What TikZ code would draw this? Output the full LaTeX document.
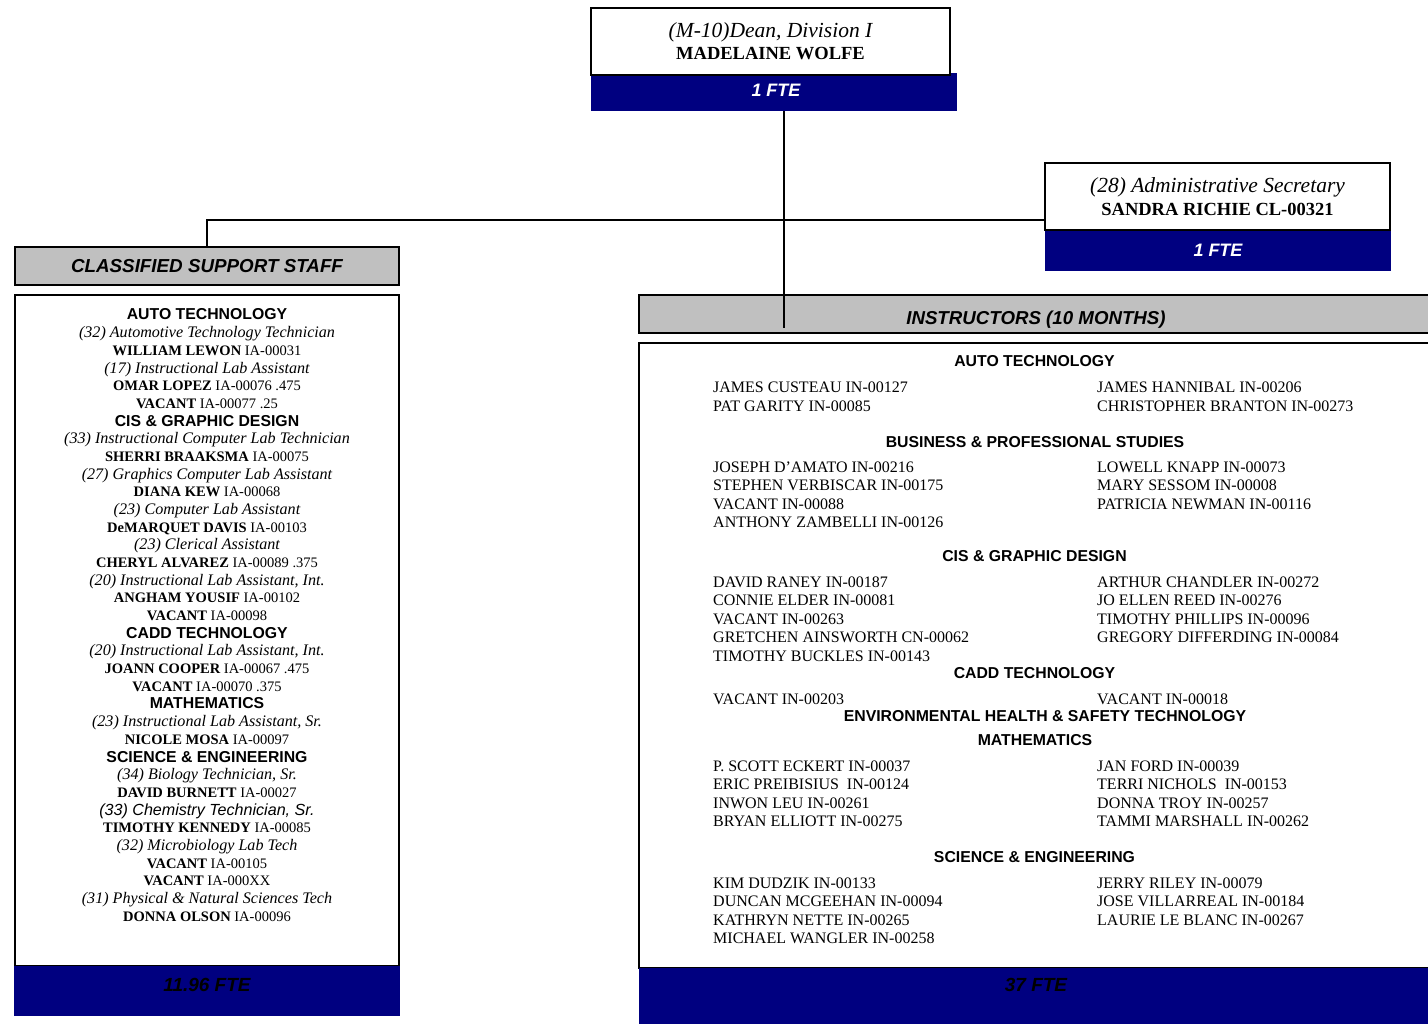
\documentclass[tikz,border=0pt]{standalone}
\usepackage{fontspec}
\setmainfont{Liberation Serif}
\setsansfont{Liberation Sans}
\definecolor{navy}{RGB}{0,0,128}
\definecolor{hdrgray}{RGB}{192,192,192}
\newcommand\Hd[1]{{\sffamily\bfseries\fontsize{15.8}{17}\selectfont #1}}
\newcommand\Jb[1]{{\itshape\fontsize{16.1}{17}\selectfont #1}}
\newcommand\Nm[2]{{\bfseries #1} #2}
\newcommand\RList[4]{\foreach \t [count=\i] in {#4} \node[rname] (#1\i) at (#2,{#3+6+(\i-1)*18.5}) {\t};}
\begin{document}
\begin{tikzpicture}[x=1pt,y=-1pt,
  box/.style={draw=black, line width=2pt, fill=white, inner sep=0pt},
  bar/.style={fill=navy, draw=none, inner sep=0pt, text=white, font=\sffamily\bfseries\itshape\fontsize{18}{20}\selectfont},
  hdr/.style={draw=black, line width=2pt, fill=hdrgray, inner sep=0pt, font=\sffamily\bfseries\itshape\fontsize{18.8}{20}\selectfont},
  lft/.style={anchor=base, inner sep=0pt, font=\fontsize{14.5}{16}\selectfont},
  rname/.style={anchor=base west, inner sep=0pt, font=\fontsize{16}{18}\selectfont},
  rhead/.style={anchor=base, inner sep=0pt, font=\sffamily\bfseries\fontsize{15.8}{17}\selectfont},
  fte/.style={inner sep=0pt, text=black, font=\sffamily\bfseries\itshape\fontsize{19}{21}\selectfont},
  link/.style={line width=1.5pt}]
\clip (0,0) rectangle (1428,1024);
\fill[white] (0,0) rectangle (1428,1024);

% Dean
\node[bar, minimum width=366pt, minimum height=38pt] (deanbar) at (774,92) {};
\node[bar] (deanfte) at (776,90) {1 FTE};
\node[box, minimum width=359pt, minimum height=67pt, align=center, font=\fontsize{18.5}{22}\selectfont] (dean) at (770.5,41.5)
  {{\itshape\fontsize{21.5}{22}\selectfont (M-10)Dean, Division I}\\ \bfseries MADELAINE WOLFE};

% Secretary
\node[bar, minimum width=346pt, minimum height=41pt] (secbar) at (1218,250.5) {};
\node[bar] (secfte) at (1218,250) {1 FTE};
\node[box, minimum width=345pt, minimum height=67pt, align=center, font=\fontsize{18.5}{23}\selectfont] (sec) at (1217.5,196.5)
  {{\itshape\fontsize{21.5}{23}\selectfont (28) Administrative Secretary}\\ \bfseries SANDRA RICHIE CL-00321};

% Classified
\node[hdr, minimum width=384pt, minimum height=38pt] (classhdr) at (207,266) {CLASSIFIED SUPPORT STAFF};
\node[box, minimum width=384pt, minimum height=671pt] (classbox) at (207,630.5) {};
\node[fill=navy, inner sep=0pt, minimum width=386pt, minimum height=50pt] (classbar) at (207,991) {};
\node[fte] (classfte) at (207,985) {11.96 FTE};

% Instructors
\node[hdr, minimum width=801pt, minimum height=38pt] (instrhdr) at (1039.5,314) {};
\node[inner sep=0pt, font=\sffamily\bfseries\itshape\fontsize{18.7}{20}\selectfont] (instrtitle) at (1036,319.5) {INSTRUCTORS (10 MONTHS)};
\node[box, minimum width=801pt, minimum height=625pt] (instrbox) at (1039.5,655.5) {};
\node[fill=navy, inner sep=0pt, minimum width=801pt, minimum height=62pt] (instrbar) at (1039.5,999) {};
\node[fte] (instrfte) at (1036,985) {37 FTE};

% Connectors
\coordinate (tee) at (784,220);
\coordinate (instrin) at (784,328);
\draw[link] (deanbar.south -| tee) -- (instrin);
\draw[link] (classhdr.north) |- (sec.west |- tee);

% Left column list
\foreach \t [count=\i] in {
 {\Hd{AUTO TECHNOLOGY}},
 {\Jb{(32) Automotive Technology Technician}},
 {\Nm{WILLIAM LEWON}{IA-00031}},
 {\Jb{(17) Instructional Lab Assistant}},
 {\Nm{OMAR LOPEZ}{IA-00076 .475}},
 {\Nm{VACANT}{IA-00077 .25}},
 {\Hd{CIS \& GRAPHIC DESIGN}},
 {\Jb{(33) Instructional Computer Lab Technician}},
 {\Nm{SHERRI BRAAKSMA}{IA-00075}},
 {\Jb{(27) Graphics Computer Lab Assistant}},
 {\Nm{DIANA KEW}{IA-00068}},
 {\Jb{(23) Computer Lab Assistant}},
 {\Nm{DeMARQUET DAVIS}{IA-00103}},
 {\Jb{(23) Clerical Assistant}},
 {\Nm{CHERYL ALVAREZ}{IA-00089 .375}},
 {\Jb{(20) Instructional Lab Assistant, Int.}},
 {\Nm{ANGHAM YOUSIF}{IA-00102}},
 {\Nm{VACANT}{IA-00098}},
 {\Hd{CADD TECHNOLOGY}},
 {\Jb{(20) Instructional Lab Assistant, Int.}},
 {\Nm{JOANN COOPER}{IA-00067 .475}},
 {\Nm{VACANT}{IA-00070 .375}},
 {\Hd{MATHEMATICS}},
 {\Jb{(23) Instructional Lab Assistant, Sr.}},
 {\Nm{NICOLE MOSA}{IA-00097}},
 {\Hd{SCIENCE \& ENGINEERING}},
 {\Jb{(34) Biology Technician, Sr.}},
 {\Nm{DAVID BURNETT}{IA-00027}},
 {{\sffamily\itshape\fontsize{16.1}{17}\selectfont (33) Chemistry Technician, Sr.}},
 {\Nm{TIMOTHY KENNEDY}{IA-00085}},
 {\Jb{(32) Microbiology Lab Tech}},
 {\Nm{VACANT}{IA-00105}},
 {\Nm{VACANT}{IA-000XX}},
 {\Jb{(31) Physical \& Natural Sciences Tech}},
 {\Nm{DONNA OLSON}{IA-00096}}}
 \node[lft] (left\i) at (207,{320+(\i-1)*17.68}) {\t};

% Right column
\node[rhead] (hA) at (1034.5,367) {AUTO TECHNOLOGY};
\RList{Al}{713}{387}{JAMES CUSTEAU IN-00127, PAT GARITY IN-00085}
\RList{Ar}{1097}{387}{JAMES HANNIBAL IN-00206, CHRISTOPHER BRANTON IN-00273}
\node[rhead] (hB) at (1035,447) {BUSINESS \& PROFESSIONAL STUDIES};
\RList{Bl}{713}{466}{JOSEPH D’AMATO IN-00216, STEPHEN VERBISCAR IN-00175, VACANT IN-00088, ANTHONY ZAMBELLI IN-00126}
\RList{Br}{1097}{466}{LOWELL KNAPP IN-00073, MARY SESSOM IN-00008, PATRICIA NEWMAN IN-00116}
\node[rhead] (hC) at (1034.5,561) {CIS \& GRAPHIC DESIGN};
\RList{Cl}{713}{581}{DAVID RANEY IN-00187, CONNIE ELDER IN-00081, VACANT IN-00263, GRETCHEN AINSWORTH CN-00062, TIMOTHY BUCKLES IN-00143}
\RList{Cr}{1097}{581}{ARTHUR CHANDLER IN-00272, JO ELLEN REED IN-00276, TIMOTHY PHILLIPS IN-00096, GREGORY DIFFERDING IN-00084}
\node[rhead] (hD) at (1034.5,678) {CADD TECHNOLOGY};
\RList{Dl}{713}{698}{VACANT IN-00203}
\RList{Dr}{1097}{698}{VACANT IN-00018}
\node[rhead] (hE) at (1045,721) {ENVIRONMENTAL HEALTH \& SAFETY TECHNOLOGY};
\node[rhead] (hF) at (1035,745) {MATHEMATICS};
\RList{Fl}{713}{765}{P. SCOTT ECKERT IN-00037, ERIC PREIBISIUS\ \ IN-00124, INWON LEU IN-00261, BRYAN ELLIOTT IN-00275}
\RList{Fr}{1097}{765}{JAN FORD IN-00039, TERRI NICHOLS\ \ IN-00153, DONNA TROY IN-00257, TAMMI MARSHALL IN-00262}
\node[rhead] (hG) at (1034.5,862) {SCIENCE \& ENGINEERING};
\RList{Gl}{713}{882}{KIM DUDZIK IN-00133, DUNCAN MCGEEHAN IN-00094, KATHRYN NETTE IN-00265, MICHAEL WANGLER IN-00258}
\RList{Gr}{1097}{882}{JERRY RILEY IN-00079, JOSE VILLARREAL IN-00184, LAURIE LE BLANC IN-00267}
\end{tikzpicture}
\end{document}
